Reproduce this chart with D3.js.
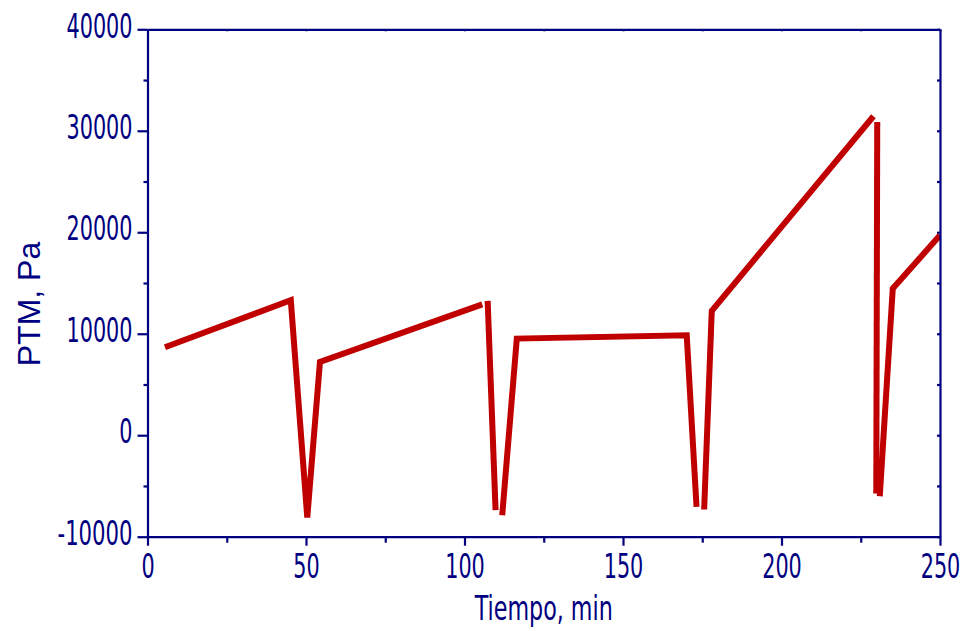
<!DOCTYPE html>
<html>
<head>
<meta charset="utf-8">
<script src="https://cdn.jsdelivr.net/npm/d3@7"></script>
<style>
  html, body { margin: 0; padding: 0; background: #fff; }
  svg { display: block; }
</style>
</head>
<body>
<svg id="chart" width="963" height="631"></svg>
<script>
// ---- Data ----
// Each segment is drawn as its own polyline (the original shows breaks between them)
const segment1X = [5.5, 45.2, 50.4, 54.4, 105.6];
const segment1Y = [8670, 13300, -8110, 7220, 12900];
const segment2X = [107.3, 109.8];
const segment2Y = [13230, -7390];
const segment3X = [111.9, 116.5, 170.1, 173.2];
const segment3Y = [-7880, 9520, 9850, -7060];
const segment4X = [175.6, 178.0, 229.0];
const segment4Y = [-7320, 12250, 31430];
const segment5X = [230.2, 229.9];
const segment5Y = [30870, -5750];
const segment6X = [231.0, 235.1, 250.0];
const segment6Y = [-6010, 14450, 19700];

const xTickValues = [0, 50, 100, 150, 200, 250];
const yTickValues = [-10000, 0, 10000, 20000, 30000, 40000];
const xMinorTicks = [25, 75, 125, 175, 225];
const yMinorTicks = [-5000, 5000, 15000, 25000, 35000];
const xTitle = "Tiempo, min";
const yTitle = "PTM, Pa";

const segments = [
  [segment1X, segment1Y], [segment2X, segment2Y], [segment3X, segment3Y],
  [segment4X, segment4Y], [segment5X, segment5Y], [segment6X, segment6Y]
].map(([xs, ys]) => xs.map((x, i) => ({x, y: ys[i]})));

// ---- Layout ----
const mLeft = 147.5, mRight = 940, mTop = 29.3, mBottom = 536.7;
const axisColor = "#000080";
const lineColor = "#c00000";
const condFont = "'DejaVu Sans Condensed', 'DejaVu Sans', sans-serif";

const svg = d3.select("#chart");
const x = d3.scaleLinear().domain([0, 250]).range([mLeft, mRight]);
const y = d3.scaleLinear().domain([-10000, 40000]).range([mBottom, mTop]);

svg.append("clipPath").attr("id", "clip").append("rect")
  .attr("x", mLeft).attr("y", mTop).attr("width", mRight - mLeft).attr("height", mBottom - mTop);

const line = d3.line().x(d => x(d.x)).y(d => y(d.y));
svg.append("g").attr("clip-path", "url(#clip)")
  .selectAll("path").data(segments).join("path")
  .attr("d", line)
  .attr("fill", "none")
  .attr("stroke", lineColor)
  .attr("stroke-width", 6)
  .attr("stroke-linejoin", "miter")
  .attr("stroke-linecap", "butt");

const labelLen = s => s.replace("-", "").length * 13.2 + (s.startsWith("-") ? 9 : 0);

function styleAxis(g) {
  g.selectAll("path.domain").attr("stroke", axisColor).attr("stroke-width", 2.2);
  g.selectAll(".tick line").attr("stroke", axisColor).attr("stroke-width", 2.2);
  g.selectAll(".tick text").attr("fill", axisColor)
    .style("font-family", condFont)
    .style("font-size", "34px")
    .attr("textLength", function() { return labelLen(this.textContent); })
    .attr("lengthAdjust", "spacingAndGlyphs");
}

const fmt = d => String(d);

// Bottom axis
const gx = svg.append("g").attr("transform", `translate(0,${mBottom})`)
  .call(d3.axisBottom(x).tickValues(xTickValues).tickFormat(fmt)
    .tickSize(9).tickSizeOuter(0));
styleAxis(gx);
gx.selectAll(".tick text").attr("y", 41.5).attr("dy", 0);
svg.append("g").attr("transform", `translate(0,${mBottom})`)
  .call(d3.axisBottom(x).tickValues(xMinorTicks).tickFormat("").tickSize(6).tickSizeOuter(0))
  .call(g => { g.select(".domain").remove(); styleAxis(g); });

// Left axis
const gy = svg.append("g").attr("transform", `translate(${mLeft},0)`)
  .call(d3.axisLeft(y).tickValues(yTickValues).tickFormat(fmt)
    .tickSize(10).tickSizeOuter(0));
styleAxis(gy);
gy.selectAll(".tick text").attr("x", -15).attr("dy", 7.7);
svg.append("g").attr("transform", `translate(${mLeft},0)`)
  .call(d3.axisLeft(y).tickValues(yMinorTicks).tickFormat("").tickSize(4).tickSizeOuter(0))
  .call(g => { g.select(".domain").remove(); styleAxis(g); });

// Top axis (tiny inward ticks)
svg.append("g").attr("transform", `translate(0,${mTop})`)
  .call(d3.axisBottom(x).tickValues(xTickValues.concat(xMinorTicks)).tickFormat("").tickSize(2).tickSizeOuter(0))
  .call(styleAxis);

// Right axis (small inward ticks)
svg.append("g").attr("transform", `translate(${mRight},0)`)
  .call(d3.axisLeft(y).tickValues(yTickValues.concat(yMinorTicks)).tickFormat("").tickSize(3).tickSizeOuter(0))
  .call(styleAxis);

// Titles
svg.append("text")
  .attr("x", (mLeft + mRight) / 2).attr("y", 620)
  .attr("text-anchor", "middle")
  .attr("fill", axisColor)
  .style("font-family", condFont)
  .style("font-size", "34px")
  .attr("textLength", 138)
  .attr("lengthAdjust", "spacingAndGlyphs")
  .text(xTitle);

svg.append("text")
  .attr("transform", `translate(40,304) rotate(-90)`)
  .attr("text-anchor", "middle")
  .attr("fill", axisColor)
  .style("font-family", "'Liberation Sans', Arial, sans-serif")
  .style("font-size", "32px")
  .text(yTitle);
</script>
</body>
</html>
